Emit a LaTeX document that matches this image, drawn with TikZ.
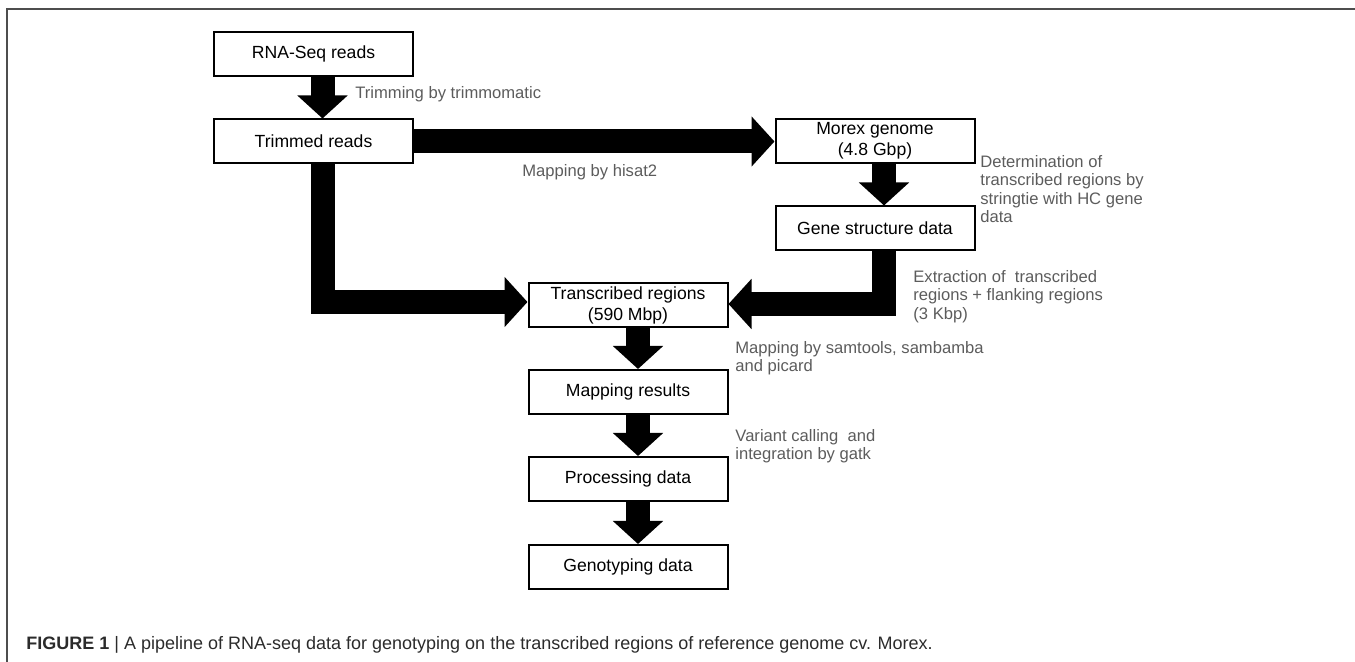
\documentclass[tikz,border=0pt]{standalone}
\usepackage{fontspec}
\setmainfont{Liberation Sans}
\usetikzlibrary{arrows.meta}

\definecolor{lblgray}{HTML}{5C5C5C}
\definecolor{framegray}{HTML}{4D4D4D}
\definecolor{capgray}{HTML}{2B2B2B}

\begin{document}
\begin{tikzpicture}[x=0.5pt,y=-0.5pt,
                    box/.style={draw,line width=1pt,fill=white,minimum width=99.5pt,minimum height=22pt,
                                inner sep=0pt,align=center,font=\fontsize{8.8}{10.5}\selectfont},
                    fatarrow/.style={line width=12pt,-{Triangle[width=24.5pt,length=11.5pt]}},  % fat arrow
                    lbl/.style={anchor=north west,inner sep=0pt,align=left,text=lblgray,
                                font=\fontsize{8.3}{9.25}\selectfont}]

\useasboundingbox (0,0) rectangle (1355,662);

%%%% frame
\draw[framegray,line width=1pt] (7,662) -- (7,9) -- (1355,9);

%%%% boxes
\node[box] (rna) at (313.5,54) {RNA-Seq reads};
\node[box] (trim) at (313.5,141.5) {Trimmed reads};
\node[box] (morex) at (875,141) {Morex genome\\(4.8 Gbp)};
\node[box] (gene) at (875,228.5) {Gene structure data};
\node[box] (trans) at (628,305) {Transcribed regions\\(590 Mbp)};
\node[box] (mapres) at (628,392) {Mapping results};
\node[box] (proc) at (628,479) {Processing data};
\node[box] (geno) at (628,567) {Genotyping data};

%%%% arrows
\draw[fatarrow] ([xshift=4.5pt]rna.south) -- ([xshift=4.5pt]trim.north);
\draw[fatarrow] (trim.east) -- (morex.west |- trim.east);
\draw[fatarrow] ([xshift=4.75pt]trim.south) |- ([yshift=1.5pt]trans.west);
\draw[fatarrow] ([xshift=4.5pt]morex.south) -- ([xshift=4.5pt]gene.north);
\draw[fatarrow] ([xshift=4.5pt]gene.south) |- ([yshift=0.5pt]trans.east);
\draw[fatarrow] ([xshift=5pt]trans.south) -- ([xshift=5pt]mapres.north);
\draw[fatarrow] ([xshift=5pt]mapres.south) -- ([xshift=5pt]proc.north);
\draw[fatarrow] ([xshift=5pt]proc.south) -- ([xshift=5pt]geno.north);

%%%% labels
\node[lbl] (trimlbl) at (355,86) {Trimming by trimmomatic};
\node[lbl] (hisatlbl) at (522,164) {Mapping by hisat2};
\node[lbl] (detlbl) at (980,155) {Determination of\\transcribed regions by\\stringtie with HC gene\\data};
\node[lbl] (extlbl) at (913,270) {Extraction of~ transcribed\\regions + flanking regions\\(3 Kbp)};
\node[lbl] (samlbl) at (735,341) {Mapping by samtools, sambamba\\and picard};
\node[lbl] (varlbl) at (735,429) {Variant calling~ and\\integration by gatk};

%%%% caption
\node[anchor=west,inner sep=0pt,text=capgray,font=\fontsize{9}{11}\selectfont] (caption) at (26,645)
  {\textbf{FIGURE 1} | A pipeline of RNA-seq data for genotyping on the transcribed regions of reference genome cv. Morex.};

\end{tikzpicture}
\end{document}
